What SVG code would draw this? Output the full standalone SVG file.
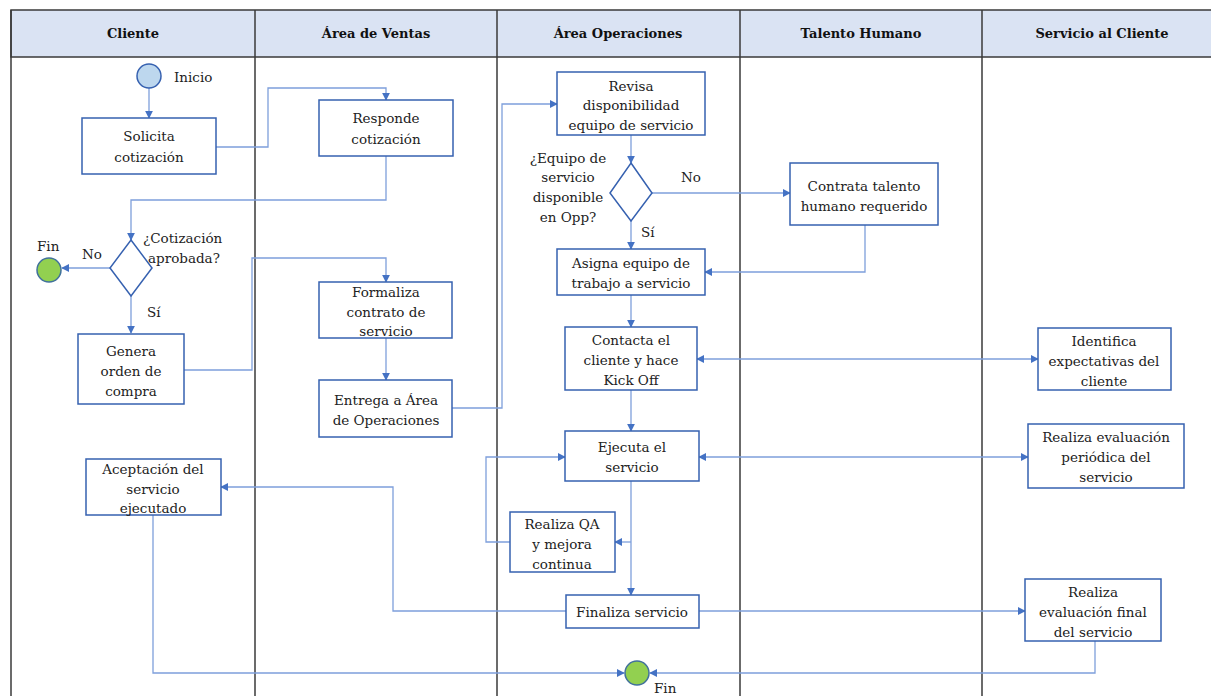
<svg xmlns="http://www.w3.org/2000/svg" width="1211" height="696" viewBox="0 0 1211 696">
  <style>
    .lane { fill: none; stroke: #3a3a3a; stroke-width: 1.5; }
    .hdr { fill: #dae3f3; stroke: #3a3a3a; stroke-width: 1.5; }
    .ht { font-family: 'DejaVu Serif', serif; font-weight: bold; font-size: 13px; fill: #111; text-anchor: middle; }
    .box { fill: #fff; stroke: #3661b0; stroke-width: 1.5; }
    .t { font-family: 'DejaVu Serif', serif; font-size: 13.5px; fill: #222; text-anchor: middle; }
    .lbl { font-family: 'DejaVu Serif', serif; font-size: 13.5px; fill: #222; }
    .c { fill: none; stroke: #7e9fdb; stroke-width: 1.3; }
  </style>
  <defs>
    <marker id="ah" viewBox="0 0 10 10" refX="9" refY="5" markerWidth="8" markerHeight="8" orient="auto-start-reverse" markerUnits="userSpaceOnUse">
      <path d="M0,0 L10,5 L0,10 z" fill="#4472c4"/>
    </marker>
  </defs>

  <rect width="1211" height="696" fill="#fff"/>

  <!-- swimlanes -->
  <g id="lanes">
    <rect class="hdr" x="11" y="10" width="1210" height="47"/>
    <line class="lane" x1="11" y1="10" x2="11" y2="696"/>
    <line class="lane" x1="255" y1="10" x2="255" y2="696"/>
    <line class="lane" x1="497" y1="10" x2="497" y2="696"/>
    <line class="lane" x1="740" y1="10" x2="740" y2="696"/>
    <line class="lane" x1="982" y1="10" x2="982" y2="696"/>
    <text class="ht" x="133" y="38">Cliente</text>
    <text class="ht" x="376" y="38">Área de Ventas</text>
    <text class="ht" x="618" y="38">Área Operaciones</text>
    <text class="ht" x="861" y="38">Talento Humano</text>
    <text class="ht" x="1102" y="38">Servicio al Cliente</text>
  </g>

  <!-- connectors -->
  <g id="connectors">
    <path class="c" d="M149,88 V118" marker-end="url(#ah)"/>
    <path class="c" d="M216,147 H268 V88 H386 V100" marker-end="url(#ah)"/>
    <path class="c" d="M386,156 V200 H131 V240" marker-end="url(#ah)"/>
    <path class="c" d="M110,268 H62" marker-end="url(#ah)"/>
    <path class="c" d="M131,296 V333" marker-end="url(#ah)"/>
    <path class="c" d="M184,370 H252 V258 H386 V282" marker-end="url(#ah)"/>
    <path class="c" d="M386,337 V380" marker-end="url(#ah)"/>
    <path class="c" d="M452,408 H502 V104 H557" marker-end="url(#ah)"/>
    <path class="c" d="M631,135 V163" marker-end="url(#ah)"/>
    <path class="c" d="M652,193 H790" marker-end="url(#ah)"/>
    <path class="c" d="M631,221 V249" marker-end="url(#ah)"/>
    <path class="c" d="M865,225 V272 H705" marker-end="url(#ah)"/>
    <path class="c" d="M631,295 V327" marker-end="url(#ah)"/>
    <path class="c" d="M697,359 H1038" marker-start="url(#ah)" marker-end="url(#ah)"/>
    <path class="c" d="M631,390 V431" marker-end="url(#ah)"/>
    <path class="c" d="M699,457 H1028" marker-start="url(#ah)" marker-end="url(#ah)"/>
    <path class="c" d="M631,481 V595" marker-end="url(#ah)"/>
    <path class="c" d="M631,542 H615" marker-end="url(#ah)"/>
    <path class="c" d="M510,542 H486 V457 H565" marker-end="url(#ah)"/>
    <path class="c" d="M699,611 H1025" marker-end="url(#ah)"/>
    <path class="c" d="M566,611 H393 V487 H221" marker-end="url(#ah)"/>
    <path class="c" d="M153,515 V673 H624" marker-end="url(#ah)"/>
    <path class="c" d="M1095,641 V673 H650" marker-end="url(#ah)"/>
  </g>

  <g id="inicio">
    <circle cx="149" cy="76" r="12" fill="#bdd7ee" stroke="#3661b0" stroke-width="1.5"/>
    <text class="lbl" x="174" y="82">Inicio</text>
  </g>

  <g id="solicita">
    <rect class="box" x="82" y="118" width="134" height="56"/>
    <text class="t" x="149" y="141">Solicita</text>
    <text class="t" x="149" y="162">cotización</text>
  </g>

  <g id="responde">
    <rect class="box" x="319" y="100" width="134" height="56"/>
    <text class="t" x="386" y="123">Responde</text>
    <text class="t" x="386" y="144">cotización</text>
  </g>

  <g id="decision-cotizacion">
    <path class="box" d="M131,240 L152,268 L131,296 L110,268 Z"/>
    <text class="lbl" x="143" y="243">¿Cotización</text>
    <text class="lbl" x="148" y="263">aprobada?</text>
    <text class="lbl" x="82" y="259">No</text>
    <text class="lbl" x="147" y="317">Sí</text>
  </g>

  <g id="fin-cliente">
    <circle cx="49" cy="270" r="12" fill="#92d050" stroke="#41719c" stroke-width="1.5"/>
    <text class="lbl" x="37" y="251">Fin</text>
  </g>

  <g id="genera">
    <rect class="box" x="78" y="334" width="106" height="70"/>
    <text class="t" x="131" y="356">Genera</text>
    <text class="t" x="131" y="376">orden de</text>
    <text class="t" x="131" y="396">compra</text>
  </g>

  <g id="formaliza">
    <rect class="box" x="319" y="282" width="133" height="56"/>
    <text class="t" x="386" y="297">Formaliza</text>
    <text class="t" x="386" y="317">contrato de</text>
    <text class="t" x="386" y="336">servicio</text>
  </g>

  <g id="entrega">
    <rect class="box" x="319" y="380" width="133" height="57"/>
    <text class="t" x="386" y="405">Entrega a Área</text>
    <text class="t" x="386" y="425">de Operaciones</text>
  </g>

  <g id="revisa">
    <rect class="box" x="557" y="72" width="148" height="63"/>
    <text class="t" x="631" y="91">Revisa</text>
    <text class="t" x="631" y="110">disponibilidad</text>
    <text class="t" x="631" y="130">equipo de servicio</text>
  </g>

  <g id="decision-equipo">
    <path class="box" d="M631,163 L652,193 L631,221 L610,193 Z"/>
    <text class="t" x="568" y="163">¿Equipo de</text>
    <text class="t" x="568" y="182">servicio</text>
    <text class="t" x="568" y="202">disponible</text>
    <text class="t" x="568" y="222">en Opp?</text>
    <text class="lbl" x="681" y="182">No</text>
    <text class="lbl" x="641" y="237">Sí</text>
  </g>

  <g id="contrata">
    <rect class="box" x="790" y="163" width="148" height="62"/>
    <text class="t" x="864" y="191">Contrata talento</text>
    <text class="t" x="864" y="211">humano requerido</text>
  </g>

  <g id="asigna">
    <rect class="box" x="557" y="249" width="148" height="46"/>
    <text class="t" x="631" y="268">Asigna equipo de</text>
    <text class="t" x="631" y="288">trabajo a servicio</text>
  </g>

  <g id="contacta">
    <rect class="box" x="565" y="327" width="132" height="63"/>
    <text class="t" x="631" y="345">Contacta el</text>
    <text class="t" x="631" y="365">cliente y hace</text>
    <text class="t" x="631" y="385">Kick Off</text>
  </g>

  <g id="identifica">
    <rect class="box" x="1038" y="328" width="133" height="62"/>
    <text class="t" x="1104" y="346">Identifica</text>
    <text class="t" x="1104" y="366">expectativas del</text>
    <text class="t" x="1104" y="386">cliente</text>
  </g>

  <g id="ejecuta">
    <rect class="box" x="565" y="431" width="134" height="50"/>
    <text class="t" x="632" y="452">Ejecuta el</text>
    <text class="t" x="632" y="472">servicio</text>
  </g>

  <g id="evaluacion-periodica">
    <rect class="box" x="1028" y="424" width="156" height="64"/>
    <text class="t" x="1106" y="442">Realiza evaluación</text>
    <text class="t" x="1106" y="462">periódica del</text>
    <text class="t" x="1106" y="482">servicio</text>
  </g>

  <g id="qa">
    <rect class="box" x="510" y="512" width="105" height="60"/>
    <text class="t" x="562" y="529">Realiza QA</text>
    <text class="t" x="562" y="549">y mejora</text>
    <text class="t" x="562" y="569">continua</text>
  </g>

  <g id="finaliza">
    <rect class="box" x="566" y="595" width="133" height="33"/>
    <text class="t" x="632" y="617">Finaliza servicio</text>
  </g>

  <g id="evaluacion-final">
    <rect class="box" x="1025" y="579" width="136" height="62"/>
    <text class="t" x="1093" y="597">Realiza</text>
    <text class="t" x="1093" y="617">evaluación final</text>
    <text class="t" x="1093" y="637">del servicio</text>
  </g>

  <g id="aceptacion">
    <rect class="box" x="86" y="459" width="135" height="56"/>
    <text class="t" x="153" y="474">Aceptación del</text>
    <text class="t" x="153" y="494">servicio</text>
    <text class="t" x="153" y="513">ejecutado</text>
  </g>

  <g id="fin-final">
    <circle cx="637" cy="673" r="12" fill="#92d050" stroke="#41719c" stroke-width="1.5"/>
    <text class="lbl" x="654" y="693">Fin</text>
  </g>
</svg>
